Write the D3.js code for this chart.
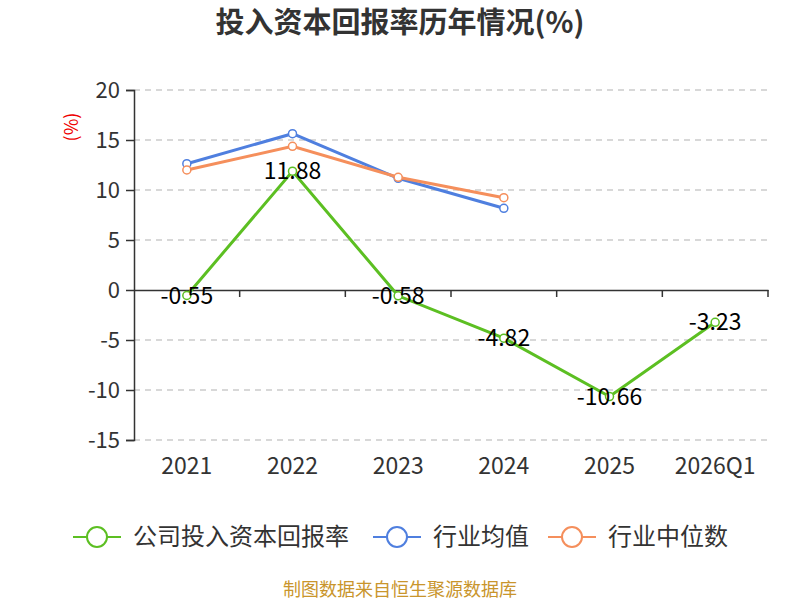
<!DOCTYPE html>
<html>
<head>
<meta charset="utf-8">
<title>投入资本回报率历年情况</title>
<script src="https://cdn.jsdelivr.net/npm/d3@7"></script>
<style>
  body { margin: 0; background: #fff; }
  text { font-family: "Noto Sans CJK SC", "Noto Sans", sans-serif; }
</style>
</head>
<body>
<script>
  var width = 800, height = 600;
  var plotLeft = 134, plotRight = 768, plotTop = 90, plotBottom = 440;

  var years = ["2021", "2022", "2023", "2024", "2025", "2026Q1"];
  var company = [-0.55, 11.88, -0.58, -4.82, -10.66, -3.23];
  var industryAvg = [12.63, 15.63, 11.17, 8.17];
  var industryMedian = [12.0, 14.37, 11.27, 9.23];
  var yTicks = [20, 15, 10, 5, 0, -5, -10, -15];

  var seriesNames = ["公司投入资本回报率", "行业均值", "行业中位数"];
  var colors = ["#5cbf22", "#4f7fdf", "#f58f5c"];

  var svg = d3.select("body").append("svg")
      .attr("width", width)
      .attr("height", height);

  var x = d3.scaleBand().domain(years).range([plotLeft, plotRight]);
  var y = d3.scaleLinear().domain([-15, 20]).range([plotBottom, plotTop]);

  // title
  svg.append("text")
      .attr("x", 400).attr("y", 33)
      .attr("text-anchor", "middle")
      .attr("font-size", 29).attr("font-weight", "bold")
      .attr("fill", "#333")
      .text("投入资本回报率历年情况(%)");

  // unit
  svg.append("text")
      .attr("transform", "translate(78,127) rotate(-90)")
      .attr("text-anchor", "middle")
      .attr("font-size", 18).attr("fill", "#e00")
      .text("(%)");

  // grid
  svg.append("g").selectAll("line")
      .data(yTicks.filter(function(d){ return d !== 0; }))
      .enter().append("line")
      .attr("x1", plotLeft).attr("x2", plotRight)
      .attr("y1", function(d){ return y(d); })
      .attr("y2", function(d){ return y(d); })
      .attr("stroke", "#ccc").attr("stroke-width", 1.5)
      .attr("stroke-dasharray", "6,5");

  // y axis
  var yAxis = svg.append("g")
      .attr("transform", "translate(" + plotLeft + ",0)")
      .call(d3.axisLeft(y).tickValues(yTicks).tickSize(8).tickPadding(6)
        .tickFormat(function(d){ return String(d); }));
  yAxis.select(".domain").attr("stroke", "#333").attr("stroke-width", 1.5);
  yAxis.selectAll(".tick line").attr("stroke", "#333").attr("stroke-width", 1.5);
  yAxis.selectAll(".tick text").attr("font-size", 22).attr("fill", "#333")
      .style("font-family", "'Noto Sans CJK SC', sans-serif");

  // x axis on zero line
  var xAxis = svg.append("g")
      .attr("transform", "translate(0," + y(0) + ")")
      .call(d3.axisBottom(x).tickSize(0).tickFormat(""));
  xAxis.select(".domain").attr("stroke", "#333").attr("stroke-width", 1.5);
  svg.append("g").selectAll("line")
      .data(years)
      .enter().append("line")
      .attr("x1", function(d){ return x(d) + x.bandwidth(); })
      .attr("x2", function(d){ return x(d) + x.bandwidth(); })
      .attr("y1", y(0)).attr("y2", y(0) + 7)
      .attr("stroke", "#333").attr("stroke-width", 1.5);

  // x labels at bottom
  svg.append("g").selectAll("text")
      .data(years).enter().append("text")
      .attr("x", function(d){ return x(d) + x.bandwidth() / 2; })
      .attr("y", 474)
      .attr("text-anchor", "middle")
      .attr("font-size", 23).attr("fill", "#333")
      .text(function(d){ return d; });

  var line = d3.line()
      .x(function(d, i){ return x(years[i]) + x.bandwidth() / 2; })
      .y(function(d){ return y(d); });

  function drawSeries(data, color) {
    svg.append("path")
        .datum(data)
        .attr("d", line)
        .attr("fill", "none")
        .attr("stroke", color).attr("stroke-width", 3);
    svg.append("g").selectAll("circle")
        .data(data).enter().append("circle")
        .attr("cx", function(d, i){ return x(years[i]) + x.bandwidth() / 2; })
        .attr("cy", function(d){ return y(d); })
        .attr("r", 4)
        .attr("fill", "#fff")
        .attr("stroke", color).attr("stroke-width", 1.5);
  }

  drawSeries(industryAvg, colors[1]);
  drawSeries(industryMedian, colors[2]);
  drawSeries(company, colors[0]);

  // company labels
  svg.append("g").selectAll("text")
      .data(company).enter().append("text")
      .attr("x", function(d, i){ return x(years[i]) + x.bandwidth() / 2; })
      .attr("y", function(d){ return y(d) + 8; })
      .attr("text-anchor", "middle")
      .attr("font-size", 23).attr("fill", "#000")
      .text(function(d){ return d.toFixed(2); });

  // legend
  var legendX = [97, 397, 572];
  var legend = svg.append("g").selectAll("g")
      .data(seriesNames).enter().append("g")
      .attr("transform", function(d, i){ return "translate(" + legendX[i] + ",537)"; });
  legend.append("line")
      .attr("x1", -24).attr("x2", 24)
      .attr("stroke", function(d, i){ return colors[i]; })
      .attr("stroke-width", 2);
  legend.append("circle")
      .attr("r", 10).attr("fill", "#fff")
      .attr("stroke", function(d, i){ return colors[i]; })
      .attr("stroke-width", 2);
  legend.append("text")
      .attr("x", 36).attr("y", 8)
      .attr("font-size", 24).attr("fill", "#333")
      .text(function(d){ return d; });

  // source
  svg.append("text")
      .attr("x", 400).attr("y", 596)
      .attr("text-anchor", "middle")
      .attr("font-size", 18).attr("fill", "#c9952c")
      .text("制图数据来自恒生聚源数据库");
</script>
</body>
</html>
